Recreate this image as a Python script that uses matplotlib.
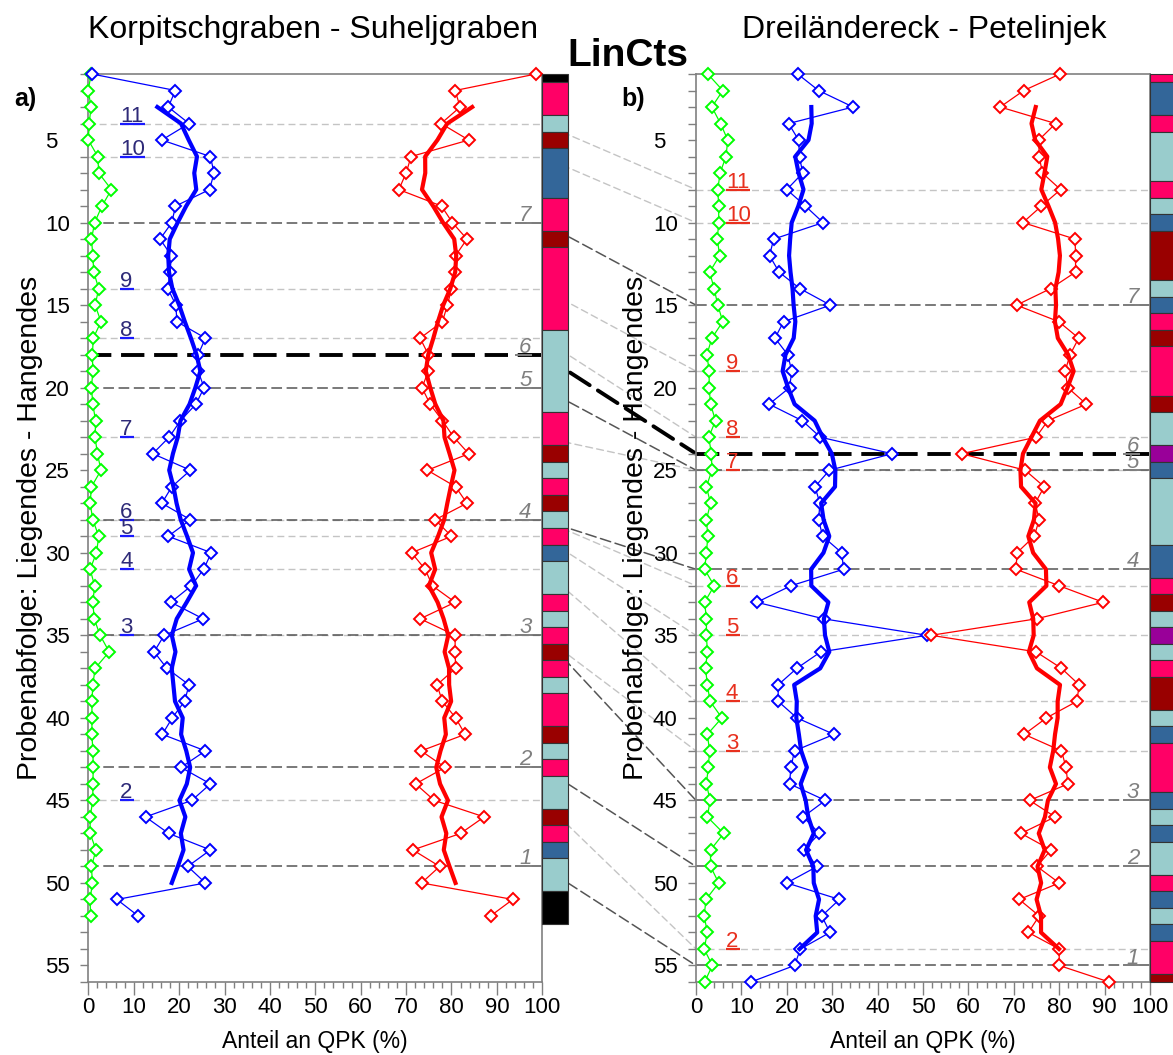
import numpy as np
import pandas as pd
import matplotlib
matplotlib.use('Agg')
import matplotlib.pyplot as plt
from matplotlib.patches import Rectangle, ConnectionPatch

plt.rcParams['font.family'] = ['Liberation Sans', 'DejaVu Sans']

# ---------------- data ----------------
# Left panel: Korpitschgraben - Suheljgraben (samples 1..52)
left_blue = [0.8, 19.2, 17.6, 22.2, 16.2, 26.9, 27.7, 26.7, 19.2, 18.4,
             15.8, 18.3, 18.0, 17.5, 19.3, 19.5, 25.8, 24.2, 24.2, 25.5,
             23.7, 20.3, 17.8, 14.2, 22.5, 18.4, 16.2, 22.5, 17.6, 27.1,
             25.4, 22.7, 18.2, 25.3, 16.7, 14.5, 17.3, 22.2, 21.2, 18.5,
             16.3, 25.8, 20.4, 26.9, 22.8, 12.6, 17.7, 26.9, 21.9, 25.8,
             6.3, 11.0]
left_red = [98.6, 80.8, 81.9, 77.7, 83.8, 71.1, 70.0, 68.4, 77.8, 80.2,
            83.4, 80.9, 80.7, 80.0, 79.1, 78.0, 73.1, 74.9, 74.9, 73.5,
            75.3, 78.0, 80.5, 83.8, 74.7, 80.9, 83.4, 76.4, 80.0, 71.2,
            74.2, 75.8, 80.8, 73.1, 80.8, 80.8, 80.9, 76.8, 78.0, 80.9,
            83.0, 73.3, 78.6, 72.1, 76.2, 87.2, 82.0, 71.5, 77.4, 73.4,
            93.5, 88.6]
left_green = [0.6, 0.0, 0.6, 0.2, 0.0, 2.1, 2.3, 5.1, 3.0, 1.4,
              0.7, 1.0, 1.2, 2.3, 1.5, 2.8, 1.1, 0.9, 1.0, 0.7,
              1.0, 1.6, 1.5, 2.0, 2.8, 0.7, 0.4, 1.0, 2.3, 1.8,
              0.4, 1.4, 1.0, 1.3, 2.6, 4.6, 1.5, 1.0, 0.8, 0.8,
              0.8, 1.0, 1.1, 1.0, 1.0, 0.4, 0.4, 1.7, 0.7, 0.9,
              0.4, 0.5]

# Right panel: Dreiländereck - Petelinjek (samples 1..56)
right_blue = [22.4, 27.0, 34.6, 20.4, 22.6, 22.8, 23.5, 20.0, 24.1, 28.0,
              17.1, 16.2, 18.3, 22.9, 29.6, 19.3, 17.4, 20.2, 21.1, 20.6,
              16.1, 23.4, 27.4, 43.2, 29.4, 26.2, 27.3, 27.0, 27.9, 32.1,
              32.5, 20.9, 13.4, 28.1, 50.9, 27.5, 22.2, 18.1, 18.1, 22.2,
              30.4, 21.7, 20.9, 20.6, 28.5, 23.6, 27.2, 23.7, 26.7, 20.0,
              31.6, 27.7, 29.5, 23.0, 21.7, 12.1]
right_red = [80.2, 72.2, 67.0, 79.2, 75.5, 75.6, 76.3, 80.3, 76.1, 72.0,
             83.5, 83.6, 83.6, 78.1, 70.6, 79.9, 84.3, 82.4, 81.3, 81.9,
             86.0, 77.5, 74.9, 58.5, 72.5, 76.7, 74.7, 75.6, 74.5, 70.7,
             70.5, 80.0, 89.7, 75.0, 51.8, 74.9, 80.5, 84.4, 83.9, 77.2,
             72.3, 80.5, 81.5, 81.9, 73.5, 79.1, 71.6, 78.2, 75.1, 80.0,
             71.2, 75.6, 73.2, 80.0, 80.0, 91.0]
right_green = [2.6, 5.9, 3.5, 5.4, 7.0, 6.6, 5.3, 4.8, 5.0, 5.0,
               4.7, 5.2, 3.0, 4.0, 4.8, 5.9, 3.5, 2.4, 2.9, 2.9,
               3.2, 4.3, 2.8, 3.4, 3.5, 2.3, 3.2, 2.3, 2.6, 2.3,
               1.9, 4.0, 1.9, 2.3, 2.3, 2.5, 2.1, 2.5, 3.1, 5.7,
               2.5, 3.0, 2.7, 2.3, 3.1, 2.5, 6.1, 3.2, 3.2, 5.0,
               2.2, 1.8, 2.5, 1.8, 3.6, 1.9]

# lithology strips (one code per sample)
left_strip = list("KMMTRBBBMMRMMMMMTTTTTMMRTMRTMBTTMTMRMTMMRTMTTRMBTTKK")
right_strip = list("MBBMTTTMTBRRRTBMRMMMRTTPBTTTTBBMRTPTMRRTBMMMBTBTTMBTBMMR")

# correlation horizons (sample positions)
left_light = [4, 6, 14, 17, 23, 28, 29, 31, 35, 45]
right_light = [8, 10, 19, 23, 25, 32, 35, 39, 42, 54]
light_labels = ["11", "10", "9", "8", "7", "6", "5", "4", "3", "2"]
left_dark = [10, 20, 28, 35, 43, 49]
right_dark = [15, 25, 31, 45, 49, 55]
dark_labels = ["7", "5", "4", "3", "2", "1"]
left_bold, right_bold, bold_label = 18, 24, "6"

ytick_vals = [5, 10, 15, 20, 25, 30, 35, 40, 45, 50, 55]
xtick_vals = [0, 10, 20, 30, 40, 50, 60, 70, 80, 90, 100]

titles = ["Korpitschgraben - Suheljgraben", "Dreiländereck - Petelinjek"]
xlabel = "Anteil an QPK (%)"
ylabel = "Probenabfolge: Liegendes - Hangendes"

strip_colors = {'K': '#000000', 'M': '#FF0066', 'T': '#99CCCC',
                'R': '#990000', 'B': '#336699', 'P': '#990099'}

# ---------------- figure ----------------
W, H = 1173, 1055
fig = plt.figure(figsize=(W / 100, H / 100), dpi=100)


def rect(x0, x1, y0, y1):
    return [x0 / W, 1 - y1 / H, (x1 - x0) / W, (y1 - y0) / H]


axL = fig.add_axes(rect(88.3, 542.3, 74, 982))
axR = fig.add_axes(rect(696, 1150, 74, 982))

GRAY = '#808080'


def draw_strip(ax, codes, x0, x1, ybot):
    n = len(codes)
    i = 0
    while i < n:
        j = i
        while j + 1 < n and codes[j + 1] == codes[i]:
            j += 1
        top = max(1.0, i + 1 - 0.5)
        bot = min(ybot, j + 1 + 0.5)
        ax.add_patch(Rectangle((x0, top), x1 - x0, bot - top,
                               facecolor=strip_colors[codes[i]],
                               edgecolor='#333333', lw=0.8,
                               clip_on=False, zorder=6))
        i = j + 1


def panel(ax, blue, red, green, strip, light, dark, bold, strip_w,
          ul_x, ul_text_c, ul_line_c):
    n = len(blue)
    y = np.arange(1, n + 1)
    ax.set_xlim(0, 100)
    ax.set_ylim(56, 1)

    for yy in light:
        ax.axhline(yy, color='#c4c4c4', lw=1.0, ls=(0, (5, 3)), zorder=1)
    for yy in dark:
        ax.axhline(yy, color='#555555', lw=1.1, ls=(0, (7, 3)), zorder=1.5)
    ax.axhline(bold, color='black', lw=2.8, ls=(0, (6, 2.5)), zorder=1.6)

    for vals, c in ((green, '#00ff00'), (blue, '#0000ff'), (red, '#ff0000')):
        ax.plot(vals, y, color=c, lw=0.9, marker='D', ms=6.0, mfc='white',
                mec=c, mew=1.4, clip_on=False, zorder=3)
    for vals, c in ((blue, '#0000ff'), (red, '#ff0000')):
        sm = pd.Series(vals).rolling(5, center=True).mean()
        ax.plot(sm, y, color=c, lw=3.0, zorder=4)

    # underlined sample labels
    for txt, yy in zip(light_labels, light):
        ax.text(ul_x, yy - 0.12, txt, color=ul_text_c, fontsize=16,
                ha='left', va='baseline', zorder=5)
        w = 3.0 if len(txt) == 1 else 5.4
        ax.plot([ul_x, ul_x + w], [yy, yy], color=ul_line_c, lw=1.6,
                solid_capstyle='butt', zorder=5)
    # italic horizon numbers
    for txt, yy in list(zip(dark_labels, dark)) + [(bold_label, bold)]:
        ax.text(97.6, yy - 0.12, txt, color=GRAY, fontsize=16,
                style='italic', ha='right', va='baseline', zorder=5)
        ax.plot([94.0, 97.8], [yy, yy], color=GRAY, lw=1.4,
                solid_capstyle='butt', zorder=5)

    draw_strip(ax, strip, 100, 100 + strip_w, min(56, len(strip) + 0.5))

    for sp in ax.spines.values():
        sp.set_color(GRAY)
        sp.set_linewidth(1.2)
    ax.set_xticks(xtick_vals)
    ax.set_xticks(np.arange(0, 101, 2), minor=True)
    ax.set_yticks(ytick_vals)
    ax.set_yticklabels([str(v) for v in ytick_vals], ha='left')
    ax.set_yticks(np.arange(1, 57, 1), minor=True)
    ax.tick_params(axis='x', which='major', direction='out', length=9,
                   width=1.0, color=GRAY, labelsize=16, pad=2)
    ax.tick_params(axis='x', which='minor', direction='out', length=4.5,
                   width=1.0, color=GRAY)
    ax.tick_params(axis='y', which='both', direction='out', length=6,
                   width=1.0, color=GRAY, labelsize=16, pad=25)


panel(axL, left_blue, left_red, left_green, left_strip,
      left_light, left_dark, left_bold, 5.7, 7.0, '#2e2a78', '#1a1aff')
panel(axR, right_blue, right_red, right_green, right_strip,
      right_light, right_dark, right_bold, 6.0, 6.6, '#e8301e', '#e8301e')

# connectors between the two profiles
for yl, yr in zip(left_light, right_light):
    fig.add_artist(ConnectionPatch(xyA=(100, yl), coordsA=axL.transData,
                                   xyB=(0, yr), coordsB=axR.transData,
                                   color='#c4c4c4', lw=1.0, ls=(0, (5, 3)),
                                   zorder=-1))
for yl, yr in zip(left_dark, right_dark):
    fig.add_artist(ConnectionPatch(xyA=(100, yl), coordsA=axL.transData,
                                   xyB=(0, yr), coordsB=axR.transData,
                                   color='#555555', lw=1.1, ls=(0, (7, 3)),
                                   zorder=-1))
fig.add_artist(ConnectionPatch(xyA=(100, left_bold), coordsA=axL.transData,
                               xyB=(0, right_bold), coordsB=axR.transData,
                               color='black', lw=2.8, ls=(0, (6, 2.5)),
                               zorder=-1))

# texts
fig.text(313 / W, 1 - 38 / H, titles[0], ha='center', va='baseline', fontsize=23)
fig.text(924 / W, 1 - 38 / H, titles[1], ha='center', va='baseline', fontsize=23)
fig.text(628 / W, 1 - 66 / H, "LinCts", ha='center', va='baseline',
         fontsize=28, fontweight='bold')
fig.text(14 / W, 1 - 106 / H, "a)", ha='left', va='baseline',
         fontsize=18, fontweight='bold')
fig.text(621 / W, 1 - 106 / H, "b)", ha='left', va='baseline',
         fontsize=18, fontweight='bold')
fig.text(315 / W, 1 - 1048 / H, xlabel, ha='center', va='baseline', fontsize=16.5)
fig.text(923 / W, 1 - 1048 / H, xlabel, ha='center', va='baseline', fontsize=16.5)
fig.text(30 / W, 1 - 528 / H, ylabel, rotation=90, ha='center', va='center',
         fontsize=20.5)
fig.text(636 / W, 1 - 528 / H, ylabel, rotation=90, ha='center', va='center',
         fontsize=20.5)

fig.savefig('out.png', dpi=100)
